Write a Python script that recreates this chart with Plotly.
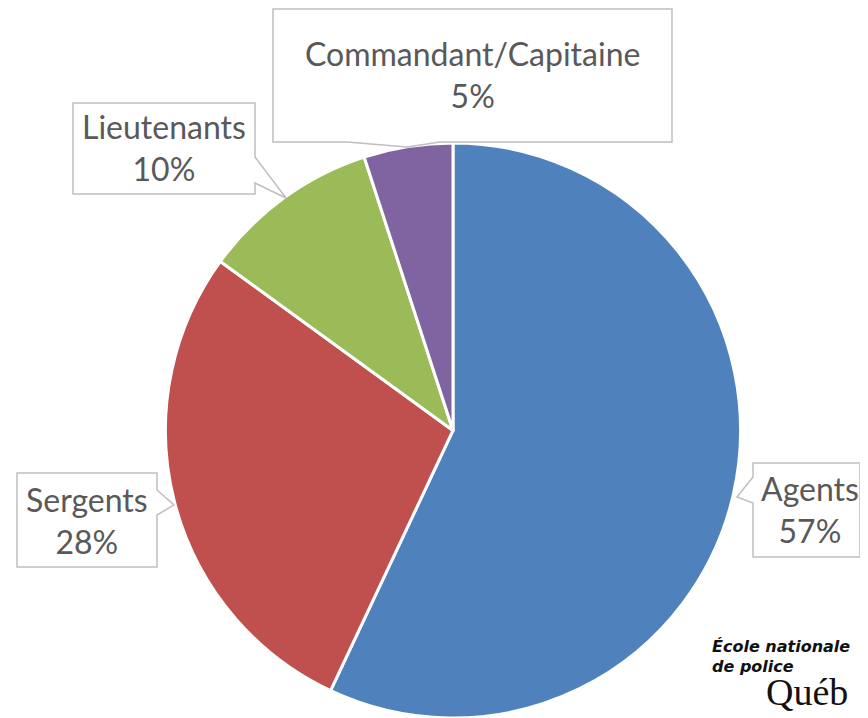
import plotly.graph_objects as go

labels = ["Agents", "Sergents", "Lieutenants", "Commandant/Capitaine"]
values = [57, 28, 10, 5]
colors = ["#4F81BD", "#C0504D", "#9BBB59", "#8064A2"]

# page body has an 8px margin, so the figure is sized to fit the window
OFF = 8
W, H = 868 - OFF, 718 - OFF


def px(x):
    return (x - OFF) / W


def py(y):
    return 1 - (y - OFF) / H


cx, cy, r = 453 - OFF, 432 - OFF, 289
fig = go.Figure(go.Pie(
    labels=labels, values=values, sort=False, direction="clockwise", rotation=0,
    marker=dict(colors=colors, line=dict(color="white", width=3)),
    textinfo="none", hoverinfo="label+percent", showlegend=False,
    domain=dict(x=[(cx - r) / W, (cx + r) / W], y=[0, 0.81]),
))

# callout boxes (reference pixels): box corners, side with pointer, pointer base points, tip, text centre
callouts = [
    ("Agents", (753, 463, 860, 557), "left", (477, 503), (737, 497), (810, 510)),
    ("Sergents", (17, 473, 157, 567), "right", (490, 515), (174, 505), (87, 520)),
    ("Lieutenants", (73, 103, 255, 194), "right", (157, 183), (286, 198), (164, 148)),
    ("Commandant/Capitaine", (273, 9, 672, 142), "bottom", (440, 347), (407, 147), (472, 75)),
]
pct = {l: v for l, v in zip(labels, values)}


def callout_path(box, side, base, tip):
    x0, y0, x1, y1 = box
    pts = [(x0, y0), (x1, y0)]
    if side == "right":
        pts += [(x1, base[0]), tip, (x1, base[1])]
    pts += [(x1, y1)]
    if side == "bottom":
        pts += [(base[0], y1), tip, (base[1], y1)]
    pts += [(x0, y1)]
    if side == "left":
        pts += [(x0, base[1]), tip, (x0, base[0])]
    return "M " + " L ".join(f"{px(a):.5f},{py(b):.5f}" for a, b in pts) + " Z"


for name, box, side, base, tip, (tx, ty) in callouts:
    fig.add_shape(type="path", xref="paper", yref="paper",
                  path=callout_path(box, side, base, tip),
                  fillcolor="white", line=dict(color="#BFBFBF", width=1.5), layer="above")
    fig.add_annotation(
        xref="paper", yref="paper", x=px(tx), y=py(ty), xanchor="center", yanchor="middle",
        text=f"{name}<br>{pct[name]}%", showarrow=False, align="center",
        font=dict(family="Lato, Open Sans, sans-serif", size=32, color="#595959"),
    )

# logo text
fig.add_annotation(xref="paper", yref="paper", x=px(710), y=py(646), xanchor="left", yanchor="middle",
                   text="<b><i>École nationale</i></b>", showarrow=False,
                   font=dict(family="DejaVu Sans, sans-serif", size=16, color="#111"))
fig.add_annotation(xref="paper", yref="paper", x=px(710), y=py(666), xanchor="left", yanchor="middle",
                   text="<b><i>de police</i></b>", showarrow=False,
                   font=dict(family="DejaVu Sans, sans-serif", size=16, color="#111"))
fig.add_annotation(xref="paper", yref="paper", x=px(764), y=py(692), xanchor="left", yanchor="middle",
                   text="Québ", showarrow=False,
                   font=dict(family="Liberation Serif, serif", size=38, color="#111"))

fig.update_layout(width=W, height=H, margin=dict(l=0, r=0, t=0, b=0),
                  paper_bgcolor="white", plot_bgcolor="white")
fig.write_html("out.html")
